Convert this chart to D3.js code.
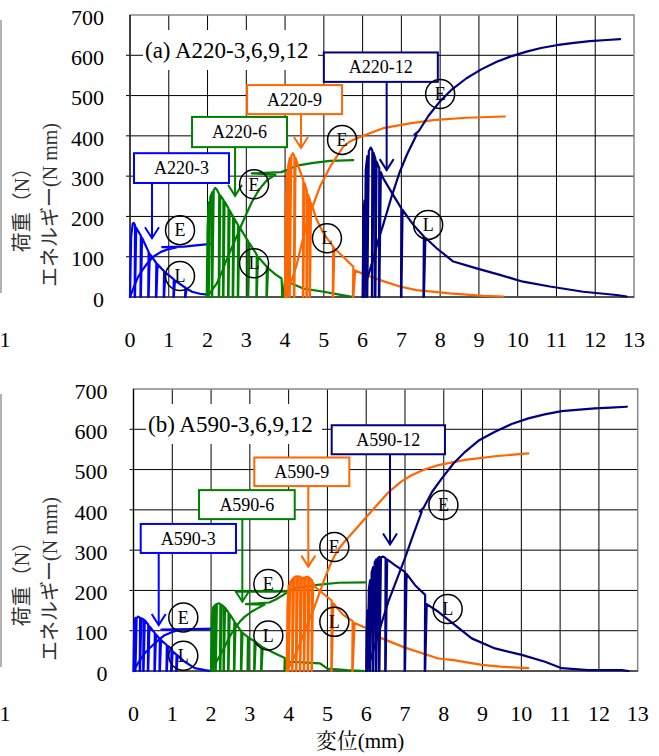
<!DOCTYPE html>
<html>
<head>
<meta charset="utf-8">
<script src="https://cdn.jsdelivr.net/npm/d3@7"></script>
<style>
  body { margin: 0; background: #fff; }
</style>
</head>
<body>
<svg id="chart" width="659" height="756"></svg>
<script>
// --- axes ---
const xTicks = d3.range(0, 14);          // 変位 (mm)
const yTicks = d3.range(0, 800, 100);    // 荷重 / エネルギー

// --- (a) A220 : load path [mm, N] and energy path [mm, N mm] ---
const a220_3_load = [[0,0],[0.03,150],[0.07,182],[0.1,184],[0.13,178],[0.12,0],[0.13,0],[0.16,172],[0.28,152],[0.27,0],[0.28,0],[0.31,147],[0.48,112],[0.47,0],[0.48,0],[0.51,107],[0.68,84],[0.67,0],[0.68,0],[0.71,81],[0.88,64],[0.87,0],[0.88,0],[0.91,61],[1.13,44],[1.12,0],[1.13,0],[1.16,41],[1.43,23],[1.42,0],[1.43,0],[1.46,21],[1.6,13],[1.8,8],[2.0,6]];
const a220_3_energy = [[0,0],[0.1,25],[0.2,48],[0.3,64],[0.45,84],[0.6,100],[0.8,112],[1.0,119],[1.2,123],[0.83,124],[1.4,125],[1.7,128],[2.1,132]];

const a220_6_load = [[1.98,0],[2.0,170],[2.03,235],[2.02,0],[2.03,0],[2.07,248],[2.12,260],[2.11,0],[2.12,0],[2.16,266],[2.2,271],[2.25,265],[2.3,255],[2.29,0],[2.3,0],[2.33,252],[2.41,241],[2.4,0],[2.41,0],[2.44,237],[2.54,220],[2.53,0],[2.54,0],[2.57,215],[2.66,199],[2.65,0],[2.66,0],[2.69,195],[2.79,178],[2.78,0],[2.79,0],[2.82,174],[3.05,138],[3.04,0],[3.05,0],[3.08,134],[3.27,105],[3.26,0],[3.27,0],[3.3,100],[3.53,75],[3.52,0],[3.53,0],[3.56,72],[3.75,56],[3.91,46],[3.93,0],[3.95,0],[4.0,43],[4.2,32],[4.47,21],[5.0,13],[5.4,6],[5.76,0]];
const a220_6_energy = [[1.98,0],[2.1,15],[2.24,34],[2.37,62],[2.49,92],[2.62,121],[2.75,150],[2.88,180],[3.01,208],[3.14,235],[3.27,257],[3.4,275],[3.53,290],[3.75,303],[3.14,307],[3.9,310],[4.04,315],[4.3,326],[4.73,333],[5.16,338],[5.76,340]];

const a220_9_load = [[4.0,0],[4.02,220],[4.05,310],[4.04,0],[4.05,0],[4.08,325],[4.12,345],[4.11,0],[4.12,0],[4.16,350],[4.2,357],[4.24,350],[4.23,0],[4.24,0],[4.27,345],[4.33,328],[4.47,290],[4.46,0],[4.47,0],[4.5,283],[4.56,265],[4.55,0],[4.56,0],[4.59,255],[4.64,241],[4.63,0],[4.64,0],[4.67,234],[4.82,191],[4.99,158],[5.24,125],[5.23,0],[5.24,0],[5.27,121],[5.5,100],[5.76,75],[5.75,0],[5.76,0],[5.81,66],[6.02,57],[6.45,42],[6.96,26],[7.39,17],[8.25,9],[9.11,3],[9.63,1]];
const a220_9_energy = [[4.0,0],[4.15,35],[4.3,80],[4.45,140],[4.56,183],[4.69,220],[4.9,274],[5.16,323],[5.5,373],[5.67,386],[5.85,394],[6.2,407],[6.53,419],[7.22,431],[7.82,439],[8.68,445],[9.67,448]];

const a220_12_load = [[6.0,0],[6.02,210],[6.05,240],[6.04,0],[6.05,0],[6.08,315],[6.12,350],[6.11,0],[6.12,0],[6.16,362],[6.21,371],[6.25,364],[6.24,0],[6.25,0],[6.28,358],[6.33,343],[6.32,0],[6.33,0],[6.36,336],[6.43,320],[6.42,0],[6.43,0],[6.47,310],[6.53,295],[6.79,253],[7.0,220],[6.99,0],[7.0,0],[7.03,216],[7.31,179],[7.58,150],[7.57,0],[7.58,0],[7.62,147],[7.91,121],[8.34,88],[8.94,71],[9.54,55],[10.14,38],[10.83,26],[11.69,13],[12.55,5],[12.81,1]];
const a220_12_energy = [[6.0,0],[6.1,40],[6.28,96],[6.4,140],[6.53,179],[6.75,250],[6.96,311],[7.15,355],[7.39,402],[7.34,403],[7.45,412],[7.7,450],[7.99,485],[8.3,515],[8.68,543],[9.06,565],[9.46,584],[9.85,598],[10.23,609],[10.6,618],[11.0,625],[11.4,630],[11.86,635],[12.3,638],[12.64,640]];

// --- (b) A590 ---
const a590_3_load = [[0,0],[0.02,115],[0.05,132],[0.04,0],[0.05,0],[0.08,131],[0.12,135],[0.17,132],[0.16,0],[0.17,0],[0.2,131],[0.26,128],[0.25,0],[0.26,0],[0.29,126],[0.38,115],[0.37,0],[0.38,0],[0.41,111],[0.55,94],[0.54,0],[0.55,0],[0.58,91],[0.68,79],[0.67,0],[0.68,0],[0.71,77],[0.86,64],[0.85,0],[0.86,0],[0.89,62],[0.98,55],[0.97,0],[0.98,0],[1.01,49],[1.11,40],[1.1,0],[1.11,0],[1.14,38],[1.32,23],[1.58,7],[1.84,2],[2.0,0]];
const a590_3_energy = [[0,0],[0.15,25],[0.29,44],[0.42,57],[0.55,69],[0.8,89],[1.0,97],[1.15,101],[0.72,103],[1.5,104],[2.13,105]];

const a590_6_load = [[2.0,0],[2.02,130],[2.05,158],[2.04,0],[2.05,0],[2.08,161],[2.12,165],[2.11,0],[2.12,0],[2.15,166],[2.2,168],[2.24,166],[2.23,0],[2.24,0],[2.27,164],[2.33,160],[2.32,0],[2.33,0],[2.36,157],[2.45,145],[2.44,0],[2.45,0],[2.48,141],[2.6,123],[2.59,0],[2.6,0],[2.63,119],[2.78,98],[2.77,0],[2.78,0],[2.81,95],[2.95,84],[2.94,0],[2.95,0],[2.98,82],[3.12,74],[3.11,0],[3.12,0],[3.15,72],[3.3,61],[3.29,0],[3.3,0],[3.33,59],[3.64,44],[3.9,32],[3.89,0],[3.91,0],[3.95,25],[4.04,23],[4.81,19],[5.0,6],[5.5,2],[5.97,0]];
const a590_6_energy = [[2.0,0],[2.15,25],[2.35,60],[2.48,85],[2.61,106],[2.74,122],[2.87,135],[3.04,147],[3.21,156],[3.38,165],[2.9,166],[3.5,170],[3.68,178],[4.0,197],[2.64,197],[4.05,199],[4.16,205],[4.68,213],[5.28,219],[5.97,220]];

const a590_9_load = [[3.95,0],[3.97,160],[4.0,212],[3.99,0],[4.0,0],[4.04,220],[4.1,229],[4.09,0],[4.1,0],[4.14,232],[4.2,235],[4.19,0],[4.2,0],[4.24,235],[4.3,234],[4.29,0],[4.3,0],[4.34,231],[4.4,231],[4.39,0],[4.4,0],[4.44,233],[4.5,234],[4.49,0],[4.5,0],[4.54,231],[4.6,225],[4.59,0],[4.6,0],[4.63,219],[4.68,209],[4.94,188],[5.11,175],[5.1,0],[5.11,0],[5.15,168],[5.4,140],[5.65,124],[5.64,0],[5.65,0],[5.7,119],[6.05,104],[6.4,81],[7.0,58],[7.86,31],[8.25,27],[8.98,15],[9.45,11],[10.18,7]];
const a590_9_energy = [[3.95,0],[4.1,25],[4.3,70],[4.5,120],[4.65,155],[4.8,195],[4.95,235],[5.1,270],[5.25,298],[5.45,322],[5.71,350],[6.14,397],[6.57,443],[6.9,470],[7.17,486],[7.5,500],[7.86,511],[8.55,524],[9.32,533],[10.18,540]];

const a590_12_load = [[6.0,0],[6.01,100],[6.03,150],[6.02,0],[6.03,0],[6.07,205],[6.1,225],[6.09,0],[6.1,0],[6.14,245],[6.18,258],[6.17,0],[6.18,0],[6.22,270],[6.26,277],[6.25,0],[6.26,0],[6.3,280],[6.34,283],[6.33,0],[6.34,0],[6.38,282],[6.44,284],[6.5,280],[6.49,0],[6.5,0],[6.54,277],[6.74,263],[7.0,246],[6.99,0],[7.0,0],[7.04,241],[7.26,213],[7.52,189],[7.51,0],[7.52,0],[7.56,166],[7.86,147],[8.29,114],[8.72,81],[9.32,56],[10.01,40],[10.61,23],[11.04,7],[11.73,2],[12.59,2],[12.76,0]];
const a590_12_energy = [[6.0,0],[6.1,25],[6.23,65],[6.4,120],[6.57,172],[6.8,230],[7.0,280],[7.2,335],[7.43,395],[7.38,396],[7.48,405],[7.7,445],[7.95,478],[8.25,515],[8.55,544],[8.9,572],[9.32,594],[9.75,613],[10.18,627],[10.6,637],[11.04,645],[11.5,649],[11.9,652],[12.3,654],[12.72,656]];

// noms des séries
const namesA = ['A220-3', 'A220-6', 'A220-9', 'A220-12'];
const namesB = ['A590-3', 'A590-6', 'A590-9', 'A590-12'];
const colors = ['#0000ff', '#008000', '#ff6600', '#000080'];

const SERIF = 'Liberation Serif';

const svg = d3.select('#chart');

// callout boxes in data units: [x0, x1, vTop, vBottom, arrowX, arrowTipV]
// circle marks: [x, v] for E and L
const panels = [
  {
    left: 130, right: 634, top: 15, bottom: 297,
    title: '(a) A220-3,6,9,12', titleBox: [143, 30, 175, 40],
    names: namesA,
    loads: [a220_3_load, a220_6_load, a220_9_load, a220_12_load],
    energies: [a220_3_energy, a220_6_energy, a220_9_energy, a220_12_energy],
    callouts: [[0.103, 2.553, 357, 283, 0.567, 146], [1.6, 4.05, 447, 372, 2.71, 251],
               [3.02, 5.47, 526, 454, 4.41, 370], [5.0, 7.94, 607, 534, 6.62, 315]],
    eMarks: [[1.29, 166], [3.2, 280], [5.47, 390], [8.0, 504]],
    lMarks: [[1.29, 52], [3.2, 84], [5.08, 146], [7.69, 179]]
  },
  {
    left: 133.5, right: 637.7, top: 389, bottom: 671,
    title: '(b) A590-3,6,9,12', titleBox: [146, 404, 176, 40],
    names: namesB,
    loads: [a590_3_load, a590_6_load, a590_9_load, a590_12_load],
    energies: [a590_3_energy, a590_6_energy, a590_9_energy, a590_12_energy],
    callouts: [[0.186, 2.643, 365, 293, 0.65, 114], [1.69, 4.157, 449, 377, 2.806, 172],
               [3.115, 5.565, 530, 459, 4.507, 259], [5.11, 8.03, 610, 538, 6.614, 314]],
    eMarks: [[1.284, 133], [3.476, 216], [5.178, 308], [7.99, 412]],
    lMarks: [[1.284, 38], [3.476, 88], [5.178, 122], [8.1, 154]]
  }
];

function drawPanel(p) {
  const x = d3.scaleLinear().domain([0, 13]).range([p.left, p.right]);
  const y = d3.scaleLinear().domain([0, 700]).range([p.bottom, p.top]);
  const g = svg.append('g');

  // grille
  g.append('g').selectAll('line')
    .data(xTicks.slice(1, -1))
    .join('line')
    .attr('x1', d => x(d)).attr('x2', d => x(d))
    .attr('y1', p.top).attr('y2', p.bottom)
    .attr('stroke', '#000').attr('stroke-width', 1);
  g.append('g').selectAll('line')
    .data(yTicks.slice(1, -1))
    .join('line')
    .attr('x1', p.left - 4).attr('x2', p.right)
    .attr('y1', d => y(d)).attr('y2', d => y(d))
    .attr('stroke', '#000').attr('stroke-width', 1);

  // cadre
  g.append('rect')
    .attr('x', p.left).attr('y', p.top)
    .attr('width', p.right - p.left).attr('height', p.bottom - p.top)
    .attr('fill', 'none').attr('stroke', '#888').attr('stroke-width', 1.5);
  g.append('line').attr('x1', p.left).attr('x2', p.left).attr('y1', p.top).attr('y2', p.bottom)
    .attr('stroke', '#000').attr('stroke-width', 1.2);
  g.append('line').attr('x1', p.left).attr('x2', p.right).attr('y1', p.bottom).attr('y2', p.bottom)
    .attr('stroke', '#000').attr('stroke-width', 1.2);

  // labels Y
  g.append('g').selectAll('text')
    .data(yTicks)
    .join('text')
    .attr('x', p.left - 26).attr('y', d => y(d) + 2)
    .attr('dy', '0.35em')
    .attr('text-anchor', 'end')
    .attr('font-family', SERIF)
    .attr('font-size', 22)
    .text(d => d);

  // labels X
  g.append('g').selectAll('text')
    .data(xTicks)
    .join('text')
    .attr('x', d => x(d)).attr('y', p.bottom + 42)
    .attr('dy', '0.35em')
    .attr('text-anchor', 'middle')
    .attr('font-family', SERIF)
    .attr('font-size', 22)
    .text(d => d);

  // titre de l'axe Y (deux lignes)
  const cy = p.top + 190;
  [['荷重（N）', 22], ['エネルギー(N mm)', 50]].forEach(([t, cx]) => {
    g.append('text')
      .attr('transform', `translate(${cx},${cy}) rotate(-90)`)
      .attr('text-anchor', 'middle')
      .attr('dy', '0.35em')
      .attr('font-size', 20)
      .attr('fill', '#333')
      .attr('font-family', 'Liberation Serif, Noto Sans CJK JP')
      .text(t);
  });

  // titre du panneau
  const tb = p.titleBox;
  g.append('rect').attr('x', tb[0]).attr('y', tb[1]).attr('width', tb[2]).attr('height', tb[3]).attr('fill', '#fff');
  g.append('text')
    .attr('x', tb[0] + 2).attr('y', tb[1] + tb[3] / 2)
    .attr('dy', '0.35em')
    .attr('font-family', SERIF)
    .attr('font-size', 23)
    .text(p.title);

  // courbes
  const line = d3.line().x(d => x(d[0])).y(d => y(d[1]));
  p.loads.forEach((data, i) => {
    g.append('path').attr('d', line(data))
      .attr('fill', 'none').attr('stroke', colors[i]).attr('stroke-width', 2.2)
      .attr('stroke-linejoin', 'round').attr('stroke-linecap', 'round');
    g.append('path').attr('d', line(p.energies[i]))
      .attr('fill', 'none').attr('stroke', colors[i]).attr('stroke-width', 2.2)
      .attr('stroke-linejoin', 'round').attr('stroke-linecap', 'round');
  });

  // bulles et flèches
  p.callouts.forEach((c, i) => {
    const [x0, x1, v0, v1, ax, tip] = c;
    const cg = g.append('g').attr('stroke', colors[i]).attr('stroke-width', 2).attr('fill', 'none');
    cg.append('line').attr('x1', x(ax)).attr('x2', x(ax)).attr('y1', y(v1)).attr('y2', y(tip));
    cg.append('polyline')
      .attr('points', `${x(ax) - 7},${y(tip) - 11} ${x(ax)},${y(tip)} ${x(ax) + 7},${y(tip) - 11}`);
    cg.append('rect')
      .attr('x', x(x0)).attr('y', y(v0))
      .attr('width', x(x1) - x(x0)).attr('height', y(v1) - y(v0))
      .attr('fill', '#fff');
    g.append('text')
      .attr('x', (x(x0) + x(x1)) / 2).attr('y', (y(v0) + y(v1)) / 2)
      .attr('dy', '0.35em')
      .attr('text-anchor', 'middle')
      .attr('font-family', SERIF)
      .attr('font-size', 18)
      .text(p.names[i]);
  });

  // marques E / L
  const marks = p.eMarks.map(m => [m, 'E']).concat(p.lMarks.map(m => [m, 'L']));
  const mg = g.append('g').selectAll('g').data(marks).join('g')
    .attr('transform', d => `translate(${x(d[0][0])},${y(d[0][1])})`);
  mg.append('circle').attr('r', 14.5).attr('fill', 'none').attr('stroke', '#000').attr('stroke-width', 1.5);
  mg.append('text').attr('text-anchor', 'middle').attr('dy', '0.35em')
    .attr('font-family', SERIF).attr('font-size', 18).text(d => d[1]);

  // restes du bord gauche de la figure d'origine
  g.append('line').attr('x1', 1).attr('x2', 1).attr('y1', p.top + 5).attr('y2', p.bottom - 4)
    .attr('stroke', '#999').attr('stroke-width', 1.5);
  g.append('text').attr('x', 5).attr('y', p.bottom + 42).attr('dy', '0.35em')
    .attr('text-anchor', 'middle').attr('font-family', SERIF).attr('font-size', 22).text('1');
}

panels.forEach(drawPanel);

// titre de l'axe X
svg.append('text')
  .attr('x', 360).attr('y', 741)
  .attr('dy', '0.35em')
  .attr('text-anchor', 'middle')
  .attr('font-family', 'Liberation Serif, Noto Serif CJK JP')
  .attr('font-size', 21)
  .text('変位(mm)');
</script>
</body>
</html>
